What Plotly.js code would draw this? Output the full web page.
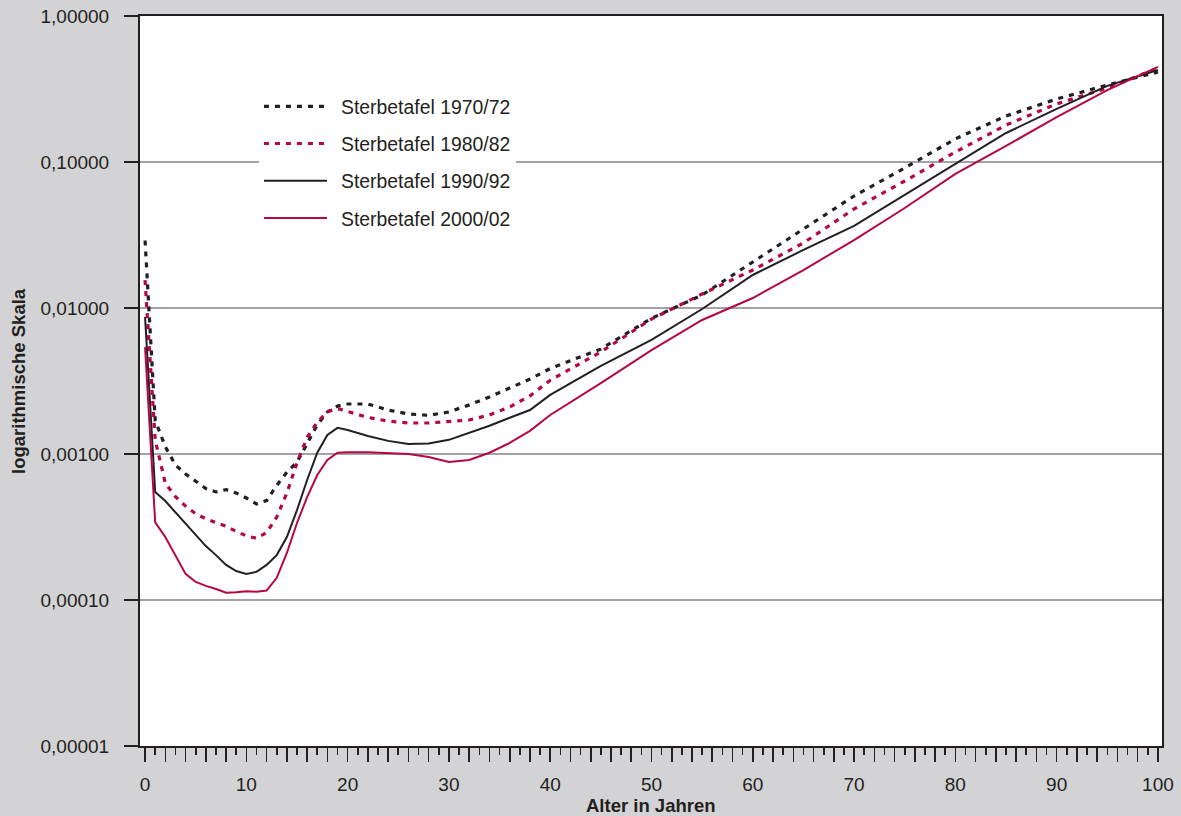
<!DOCTYPE html>
<html>
<head>
<meta charset="utf-8">
<script src="https://cdn.plot.ly/plotly-3.0.1.min.js"></script>
<style>
  html, body { margin: 0; padding: 0; background: #d3d3d5; }
  #chart { width: 1181px; height: 816px; }
</style>
</head>
<body>
<div id="chart"></div>
<script>
// Sterbewahrscheinlichkeit q(x) nach Alter, vier Sterbetafeln
const ages = [0, 1, 2, 3, 4, 5, 6, 7, 8, 9, 10, 11, 12, 13, 14, 15, 16, 17, 18, 19, 20,
              22, 24, 26, 28, 30, 32, 34, 36, 38, 40,
              45, 50, 55, 60, 65, 70, 75, 80, 85, 90, 95, 100];

const sterbetafel1970 = [0.029, 0.0017, 0.00112, 0.00084, 0.00073, 0.00065, 0.00058, 0.00055, 0.00057, 0.00054, 0.0005,
                         0.000455, 0.00048, 0.00061, 0.00075, 0.00088, 0.00119, 0.00158, 0.00194, 0.00213, 0.0022,
                         0.0022, 0.002, 0.00188, 0.00184, 0.00194, 0.00217, 0.00246, 0.00283, 0.00326, 0.00385,
                         0.00524, 0.0085, 0.01228, 0.02066, 0.0348, 0.0585, 0.091, 0.144, 0.2066, 0.27, 0.337, 0.413];

const sterbetafel1980 = [0.0155, 0.00125, 0.00063, 0.00051, 0.00044, 0.00039, 0.00036, 0.00034, 0.00032, 0.000295, 0.000275,
                         0.000265, 0.00029, 0.00037, 0.00054, 0.00087, 0.0013, 0.00165, 0.00195, 0.00205, 0.00195,
                         0.00178, 0.00168, 0.00163, 0.00163, 0.00166, 0.00171, 0.00185, 0.0021, 0.0025, 0.0032,
                         0.005, 0.0084, 0.01247, 0.0182, 0.0279, 0.0477, 0.0741, 0.117, 0.179, 0.25, 0.321, 0.44];

const sterbetafel1990 = [0.0087, 0.00055, 0.000476, 0.0004, 0.000332, 0.000279, 0.000234, 0.000203, 0.000174, 0.000158, 0.000151,
                         0.000156, 0.000174, 0.000203, 0.00027, 0.000413, 0.000664, 0.00102, 0.00135, 0.00151, 0.00146,
                         0.00133, 0.00123, 0.00117, 0.00118, 0.00125, 0.00139, 0.00156, 0.00177, 0.002, 0.00254,
                         0.00401, 0.00604, 0.00984, 0.01683, 0.025, 0.0365, 0.0594, 0.0969, 0.158, 0.231, 0.332, 0.427];

const sterbetafel2000 = [0.0054, 0.00034, 0.00027, 0.000203, 0.000151, 0.000133, 0.000125, 0.000119, 0.000112, 0.000113, 0.000115,
                         0.000114, 0.000116, 0.000142, 0.00021, 0.000337, 0.000507, 0.000718, 0.00091, 0.00102, 0.00103,
                         0.00103, 0.00102, 0.001, 0.000953, 0.000881, 0.00091, 0.00102, 0.00119, 0.00144, 0.00185,
                         0.00306, 0.00515, 0.00828, 0.0117, 0.0182, 0.0292, 0.0484, 0.0828, 0.1288, 0.2033, 0.311, 0.448];

const seriesNames = ['Sterbetafel 1970/72', 'Sterbetafel 1980/82', 'Sterbetafel 1990/92', 'Sterbetafel 2000/02'];

const yTickValues = [0.00001, 0.0001, 0.001, 0.01, 0.1, 1];
const yTickLabels = ['0,00001', '0,00010', '0,00100', '0,01000', '0,10000', '1,00000'];
const xTickLabels = ['0', '10', '20', '30', '40', '50', '60', '70', '80', '90', '100'];

const INK = '#231f20';
const CRIMSON = '#b5083f';
const PAPER = '#d3d3d5';

// long ticks every two years, labelled every ten; short ticks on odd years
const majorTicks = [], majorText = [], minorTicks = [];
for (let a = 0; a <= 100; a++) {
  if (a % 2 === 0) {
    majorTicks.push(a);
    majorText.push(xTickLabels.includes(String(a)) ? String(a) : '');
  } else {
    minorTicks.push(a);
  }
}

const dotted = { width: 3.2, dash: '5px,6px' };
const solid = { width: 2 };

const traces = [
  { y: sterbetafel1970, line: Object.assign({ color: INK }, dotted) },
  { y: sterbetafel1980, line: Object.assign({ color: CRIMSON }, dotted) },
  { y: sterbetafel1990, line: Object.assign({ color: INK }, solid) },
  { y: sterbetafel2000, line: Object.assign({ color: CRIMSON }, solid) }
].map((t, i) => ({
  type: 'scatter',
  mode: 'lines',
  x: ages,
  y: t.y,
  name: seriesNames[i],
  legendgroup: 'g' + i,
  line: t.line,
  hoverinfo: 'skip'
}));

const layout = {
  width: 1181,
  height: 816,
  paper_bgcolor: PAPER,
  plot_bgcolor: '#ffffff',
  margin: { l: 140, r: 19, t: 16, b: 70, pad: 0 },
  font: { family: '"Liberation Sans", Arial, Helvetica, sans-serif', size: 19, color: INK },
  showlegend: true,
  legend: {
    x: 0.1164, xanchor: 'left',
    y: 0.9025, yanchor: 'top',
    bgcolor: '#ffffff',
    borderwidth: 0,
    traceorder: 'grouped',
    tracegroupgap: 9,
    itemwidth: 72,
    font: { size: 19.4, color: INK }
  },
  xaxis: {
    range: [-0.5, 100.4],
    tickmode: 'array',
    tickvals: majorTicks,
    ticktext: majorText,
    ticks: 'outside',
    ticklen: 14,
    tickwidth: 1.6,
    tickcolor: INK,
    ticklabelstandoff: 6,
    minor: { tickvals: minorTicks, ticks: 'outside', ticklen: 7, tickwidth: 1.6, tickcolor: INK, showgrid: false },
    showline: true,
    linecolor: INK,
    linewidth: 2,
    mirror: true,
    showgrid: false,
    zeroline: false,
    fixedrange: true
  },
  yaxis: {
    type: 'log',
    range: [-5, 0],
    tickmode: 'array',
    tickvals: yTickValues,
    ticktext: yTickLabels,
    ticks: 'outside',
    ticklen: 14,
    tickwidth: 2,
    tickcolor: INK,
    ticklabelstandoff: 11,
    showline: true,
    linecolor: INK,
    linewidth: 2,
    mirror: true,
    showgrid: true,
    gridcolor: '#a3a3a3',
    gridwidth: 1.5,
    zeroline: false,
    fixedrange: true
  },
  annotations: [
    {
      text: '<b>Alter in Jahren</b>',
      xref: 'paper', yref: 'paper',
      x: 0.5, y: -0.0815,
      xanchor: 'center', yanchor: 'middle',
      showarrow: false,
      font: { size: 18.5, color: INK }
    },
    {
      text: '<b>logarithmische Skala</b>',
      xref: 'paper', yref: 'paper',
      x: -0.1194, y: 0.5,
      xanchor: 'center', yanchor: 'middle',
      textangle: -90,
      showarrow: false,
      font: { size: 18.5, color: INK }
    }
  ]
};

Plotly.newPlot('chart', traces, layout, { staticPlot: true, displayModeBar: false }).then(gd => {
  // longer legend line samples so the dash pattern reads clearly
  gd.querySelectorAll('.legend .legendlines path').forEach(p => p.setAttribute('d', 'M5,0h63'));
});
</script>
</body>
</html>
